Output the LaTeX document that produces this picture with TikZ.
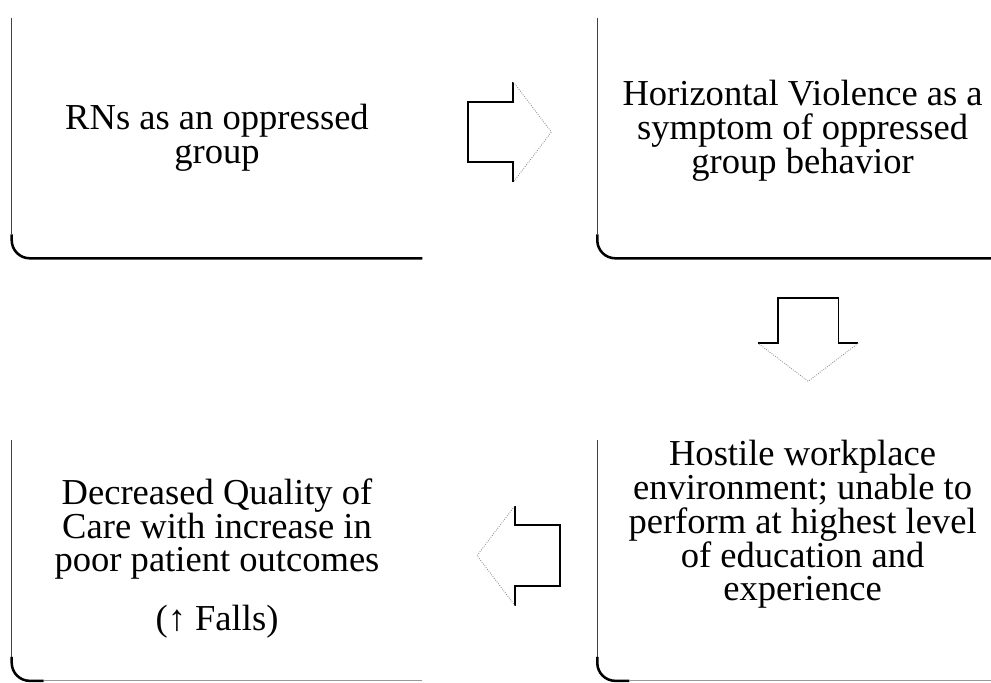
\documentclass[tikz,border=0pt]{standalone}
\usepackage{fontspec}
\setmainfont{Liberation Serif}
\usetikzlibrary{positioning, calc}
\tikzstyle{frame} = [rectangle, minimum width=10.25cm, minimum height=6cm, inner sep=0pt]
\tikzstyle{boxtext} = [align=center, inner sep=0pt, font=\fontsize{26}{24}\selectfont]
\tikzstyle{leftedge} = [line width=0.8pt, black!75]
\tikzstyle{bottomedge} = [line width=1.8pt, black, rounded corners=0.45cm]
\tikzstyle{faintedge} = [line width=0.6pt, black!40]
\tikzstyle{blockback} = [line width=1.3pt, black]
\tikzstyle{blockhead} = [line width=0.6pt, black!45, densely dotted]

\begin{document}
\begin{tikzpicture}[node distance=4.55cm and 4.375cm]

\clip (0,0) rectangle (24.775,-17.05);

% Frames
\node (rns) [frame] at (5.425,-3.45) {};
\node (hv) [frame, right=of rns] {};
\node (hw) [frame, below=of hv] {};
\node (dq) [frame, left=of hw] {};

% Texts
\node (rnstext) [boxtext] at (rns.center) {RNs as an oppressed\\group};
\node (hvtext) [boxtext] at ($(hv.center)+(0,0.18)$) {Horizontal Violence as a\\symptom of oppressed\\group behavior};
\node (hwtext) [boxtext] at ($(hw.center)+(0,0.9)$) {Hostile workplace\\environment; unable to\\perform at highest level\\of education and\\experience};
\node (dqtext) [boxtext] at ($(dq.center)+(0,0.05)$) {Decreased Quality of\\Care with increase in\\poor patient outcomes\\[18pt](↑ Falls)};

% Frame edges: left side and bottom only
\draw [leftedge] (rns.north west) -- ([yshift=0.6cm]rns.south west);
\draw [bottomedge] ([yshift=0.6cm]rns.south west) -- (rns.south west) -- (rns.south east);
\draw [leftedge] (hv.north west) -- ([yshift=0.6cm]hv.south west);
\draw [bottomedge] ([yshift=0.6cm]hv.south west) -- (hv.south west) -- (hv.south east);
\draw [leftedge] (hw.north west) -- ([yshift=0.6cm]hw.south west);
\draw [bottomedge] ([yshift=0.6cm]hw.south west) -- (hw.south west) -- ([xshift=0.8cm]hw.south west);
\draw [faintedge] ([xshift=0.8cm]hw.south west) -- (hw.south east);
\draw [leftedge] (dq.north west) -- ([yshift=0.6cm]dq.south west);
\draw [bottomedge] ([yshift=0.6cm]dq.south west) -- (dq.south west) -- ([xshift=0.8cm]dq.south west);
\draw [faintedge] ([xshift=0.8cm]dq.south west) -- (dq.south east);

% Block arrows between the frames
\coordinate (a1) at ($($(rns.east)!0.5!(hv.west)$)+(0,0.15)$);
\coordinate (a2) at ($($(hv.south)!0.5!(hw.north)$)+(0.14,0.24)$);
\coordinate (a3) at ($($(hw.west)!0.5!(dq.east)$)+(0.22,0.125)$);

\foreach \c/\r in {a1/0, a2/-90, a3/180} {
  \begin{scope}[shift={(\c)}, rotate=\r]
    \draw [blockback] (0.09,1.25) -- (0.09,0.76) -- (-1.04,0.76) -- (-1.04,-0.76) -- (0.09,-0.76) -- (0.09,-1.25);
    \draw [blockhead] (0.09,1.25) -- (1.04,0) -- (0.09,-1.25);
  \end{scope}
}

\end{tikzpicture}
\end{document}
